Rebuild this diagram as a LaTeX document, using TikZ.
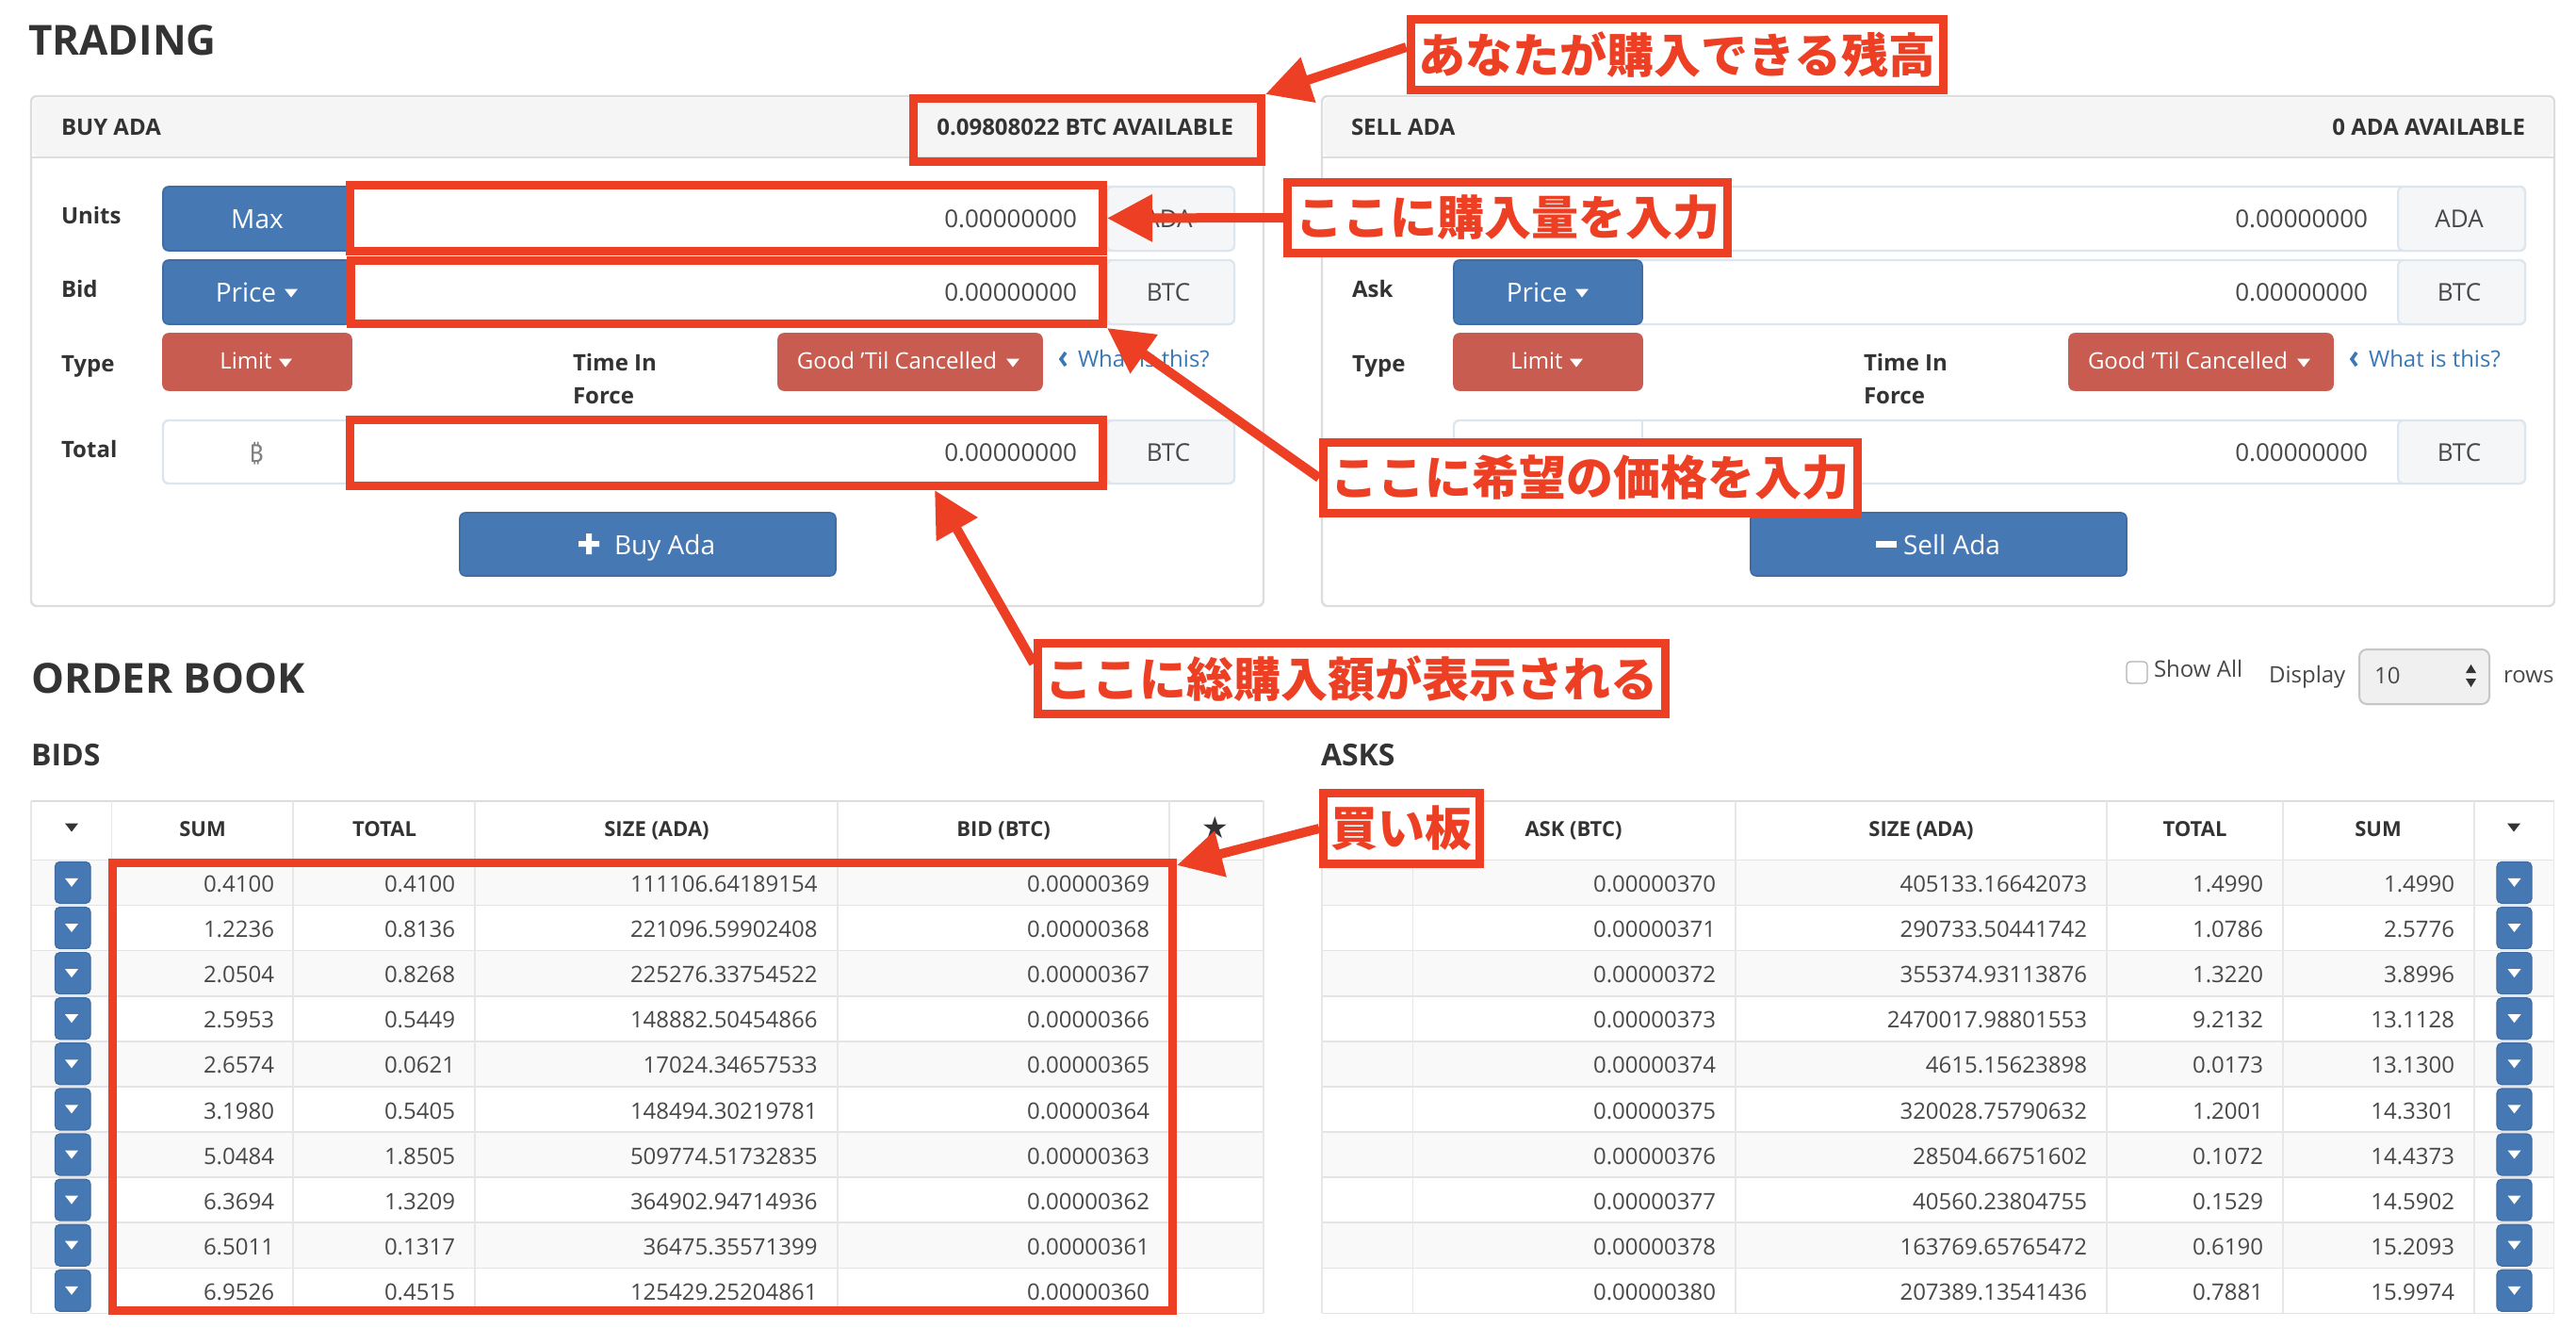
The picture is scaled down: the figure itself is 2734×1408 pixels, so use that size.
\documentclass[tikz,border=0pt]{standalone}
\usepackage{fontspec}
\usetikzlibrary{arrows.meta,calc}
\setmainfont{Open Sans}
\newfontfamily\cjk{Noto Sans CJK JP}
\newfontfamily\djv{DejaVu Sans}
\newfontfamily\nts{Noto Sans}
\newcommand{\fsz}[1]{\fontsize{#1}{#1}\selectfont}
\definecolor{anno}{HTML}{EC3F23}
\definecolor{ubtn}{HTML}{4679B4}
\definecolor{ubord}{HTML}{3F6CA3}
\definecolor{rbtn}{HTML}{C85C50}
\definecolor{ink}{HTML}{333333}
\definecolor{soft}{HTML}{484848}
\definecolor{gline}{HTML}{DDDDDD}
\definecolor{gborder}{HTML}{DDE6EE}
\definecolor{addon}{HTML}{F4F6F7}
\definecolor{stripe}{HTML}{F9F9F9}
\definecolor{linkc}{HTML}{3A78B4}
\tikzset{
  txt/.style={inner sep=0pt,outer sep=0pt,text depth=0pt,text=ink},
  lab/.style={txt,anchor=west,font=\fsz{12}\bfseries,text height=8.6pt},
  head/.style={txt,font=\fsz{12}\bfseries,text height=8.6pt},
  thd/.style={txt,font=\fsz{11}\bfseries,text height=7.9pt},
  big/.style={txt,anchor=west,font=\fsz{22}\bfseries,text height=15.8pt},
  mid/.style={txt,anchor=west,font=\fsz{16}\bfseries,text height=11.5pt},
  num/.style={txt,anchor=east,font=\fsz{13},text=soft,text height=9.4pt},
  addt/.style={txt,font=\fsz{13},text=soft,text height=9.4pt},
  cell/.style={txt,anchor=east,font=\fsz{12},text=soft,text height=8.6pt},
  plain/.style={txt,anchor=west,font=\fsz{12},text=soft,text height=8.6pt},
  wbig/.style={txt,font=\fsz{14},text=white,text height=10pt},
  wsm/.style={txt,font=\fsz{12},text=white,text height=8.6pt},
  panel/.style={draw=gline,line width=1.2pt,fill=white,rounded corners=3pt},
  group/.style={draw=gborder,line width=1.2pt,fill=white,rounded corners=3pt},
  addonbox/.style={draw=gborder,line width=1pt,fill=addon,rounded corners=3pt},
  bluebtn/.style={fill=ubtn,draw=ubord,line width=.8pt,rounded corners=3pt},
  redbtn/.style={fill=rbtn,draw=rbtn,line width=.8pt,rounded corners=3pt},
  smallbtn/.style={fill=ubtn,draw=ubord,line width=.6pt,rounded corners=2.5pt},
  hotbox/.style={draw=anno,line width=4.5pt},
  callout/.style={draw=anno,fill=white,line width=4.5pt,text=anno,font=\cjk\bfseries\fsz{25}},
  pointer/.style={draw=anno,fill=anno,line width=5pt,-{Triangle[length=24pt,width=24pt]}},
}
\newcommand{\bx}[7]{%
  \pgfmathsetmacro\bw{((#4)-(#2))*0.5}\pgfmathsetmacro\bh{((#5)-(#3))*0.5}%
  \pgfmathsetmacro\bcx{((#2)+(#4))/2}\pgfmathsetmacro\bcy{((#3)+(#5))/2}%
  \node[inner sep=0pt,minimum width=\bw pt,minimum height=\bh pt,#6] (#1) at (\bcx,\bcy) {#7};}
\newcommand{\rb}[7]{\bx{#1}{(#2)+4.5}{(#3)+4.5}{(#4)-4.5}{(#5)-4.5}{#6}{#7}}
\newcommand{\crt}[3][white]{\fill[#1] ({(#2)-7},{(#3)-4.5}) -- ({(#2)+7},{(#3)-4.5}) -- ({#2},{(#3)+4.5}) -- cycle;}
\begin{document}
\begin{tikzpicture}[x=0.5pt,y=-0.5pt]
\useasboundingbox (0,0) rectangle (2734,1408);
\fill[white] (0,0) rectangle (2734,1408);

\node[big] (trading) at (30,43) {TRADING};
\node[big] (orderbook) at (33,720) {ORDER BOOK};
\node[mid] (bids) at (33,801) {BIDS};
\node[mid] (asks) at (1402,801) {ASKS};

% ---------- panels (left, then right at +1370)
\foreach \o/\p in {0/L,1370/R}{
  \bx{panel\p}{33+\o}{102}{1341+\o}{643}{panel}{}
  \fill[rounded corners=3pt,fill=gray!8] (35+\o,104) rectangle (1339+\o,166);
  \draw[gline,line width=1.2pt] (33+\o,167) -- (1341+\o,167);
  % input groups
  \bx{gu\p}{173+\o}{198}{1310+\o}{266}{group}{}
  \bx{gb\p}{173+\o}{276}{1310+\o}{344}{group}{}
  \bx{gt\p}{173+\o}{446}{1310+\o}{513}{group}{}
  \bx{au\p}{1175+\o}{198}{1310+\o}{266}{addonbox}{}
  \bx{ab\p}{1175+\o}{276}{1310+\o}{344}{addonbox}{}
  \bx{at\p}{1175+\o}{446}{1310+\o}{513}{addonbox}{}
  \draw[gborder,line width=1pt] (373+\o,446) -- (373+\o,513);
  \bx{bu\p}{173+\o}{198}{373+\o}{266}{bluebtn}{}
  \bx{bb\p}{173+\o}{276}{373+\o}{344}{bluebtn}{}
  \node[wbig] (pr\p) at (261+\o,310) {Price};
  \crt{309+\o}{311}
  \node[num] (nu\p) at (1143+\o,232) {0.00000000};
  \node[num] (nb\p) at (1143+\o,310) {0.00000000};
  \node[num] (nt\p) at (1143+\o,480) {0.00000000};
  \node[addt] (tb\p) at (1240+\o,310) {BTC};
  \node[addt] (tt\p) at (1240+\o,480) {BTC};
  \node[addt] (tu\p) at (1240+\o,232) {ADA};
  \bx{lim\p}{173+\o}{354}{373+\o}{414}{redbtn}{}
  \node[wsm] (lt\p) at (261+\o,383) {Limit};
  \crt{303+\o}{385}
  \bx{gtc\p}{826+\o}{354}{1106+\o}{414}{redbtn}{}
  \node[wsm] (gt\p) at (952+\o,383) {Good \char39 Til Cancelled};
  \crt{1075+\o}{385}
  \draw[linkc,line width=1.8pt] (1131+\o,374) -- (1126+\o,381) -- (1131+\o,388);
  \node[plain,text=linkc] (what\p) at (1144+\o,381) {What is this?};
  \node[lab] (type\p) at (65+\o,386) {Type};
  \node[lab] (ti\p) at (608+\o,385) {Time In};
  \node[lab] (fo\p) at (608+\o,420) {Force};
  \bx{act\p}{488+\o}{544}{887+\o}{611}{bluebtn}{}
}
\node[wbig] (maxt) at (273,232) {Max};
\node[txt,font=\nts\bfseries\fsz{13},text=gray,text height=9.4pt] (btc) at (272,481) {₿};
\node[wbig,anchor=west] (buyt) at (652,578) {Buy Ada};
\fill[white] (614,574) rectangle (636,580) (622,566) rectangle (628,588);
\node[wbig,anchor=west] (sellt) at (2020,578) {Sell Ada};
\fill[white] (1991,574) rectangle (2013,581);
\node[lab] (units) at (65,229) {Units};
\node[lab] (bid) at (65,307) {Bid};
\node[lab] (total) at (65,477) {Total};
\node[lab] (ask) at (1435,307) {Ask};
\node[head,anchor=west] (buyada) at (65,135) {BUY ADA};
\node[head,anchor=west] (sellada) at (1434,135) {SELL ADA};
\node[head,anchor=east] (availb) at (1309,135) {0.09808022 BTC AVAILABLE};
\node[head,anchor=east] (avails) at (2680,135) {0 ADA AVAILABLE};

% ---------- show all
\bx{chk}{2257}{702}{2279}{725}{draw=gray!60,line width=.6pt,fill=white,rounded corners=2pt}{}
\node[plain] (showall) at (2286,710) {Show All};
\node[plain] (display) at (2408,716) {Display};
\bx{sel}{2504}{689}{2642}{747}{draw=gray!45,line width=1pt,fill=gray!12,rounded corners=4pt}{}
\node[plain] (ten) at (2520,717) {10};
\fill[ink] (2617,714) -- (2628,714) -- (2622.5,705) -- cycle;
\fill[ink] (2617,720) -- (2628,720) -- (2622.5,729) -- cycle;
\node[plain] (rowsl) at (2657,716) {rows};

% ---------- tables: stripes first
\foreach \o in {0,1370}{
  \foreach \i in {1,3,5,7,9}{
    \pgfmathsetmacro\ry{912.4+(\i-1)*48.1}
    \fill[stripe] (33+\o,\ry) rectangle (1341+\o,\ry+48.1);
  }
  \foreach \i in {0,...,10}{
    \pgfmathsetmacro\ry{912.4+\i*48.1}
    \draw[gline!80,line width=.8pt] (33+\o,\ry) -- (1341+\o,\ry);
  }
  \draw[gline,line width=1.4pt] (33+\o,850) -- (1341+\o,850);
}
\foreach \x in {33,118.6,311,504,889,1241,1341,1403,1499.5,1842,2236,2423,2626,2710.5}{
  \draw[gline!70,line width=.6pt] (\x,850) -- (\x,1393);
}
\node[thd] (hsum) at (215,880) {SUM};
\node[thd] (htot) at (408,880) {TOTAL};
\node[thd] (hsz) at (697,880) {SIZE (ADA)};
\node[thd] (hbid) at (1065,880) {BID (BTC)};
\node[txt,font=\djv\fsz{16},text height=11pt] (star) at (1290,878) {★};
\crt[ink]{76}{878}
\node[thd] (hask) at (1670,880) {ASK (BTC)};
\node[thd] (hsz2) at (2039,880) {SIZE (ADA)};
\node[thd] (htot2) at (2329.5,880) {TOTAL};
\node[thd] (hsum2) at (2524,880) {SUM};
\crt[ink]{2668}{878}

\foreach \s/\t/\z/\b [count=\i] in {
 0.4100/0.4100/111106.64189154/0.00000369,
 1.2236/0.8136/221096.59902408/0.00000368,
 2.0504/0.8268/225276.33754522/0.00000367,
 2.5953/0.5449/148882.50454866/0.00000366,
 2.6574/0.0621/17024.34657533/0.00000365,
 3.1980/0.5405/148494.30219781/0.00000364,
 5.0484/1.8505/509774.51732835/0.00000363,
 6.3694/1.3209/364902.94714936/0.00000362,
 6.5011/0.1317/36475.35571399/0.00000361,
 6.9526/0.4515/125429.25204861/0.00000360}{
  \pgfmathsetmacro\ry{912.4+(\i-1)*48.1}
  \pgfmathsetmacro\ty{\ry+25.5}
  \bx{bb\i}{58.4}{\ry+2}{96}{\ry+46}{smallbtn}{}
  \crt{76}{\ry+24}
  \node[cell] (bs\i) at (291,\ty) {\s};
  \node[cell] (bt\i) at (483,\ty) {\t};
  \node[cell] (bz\i) at (867.5,\ty) {\z};
  \node[cell] (bp\i) at (1220,\ty) {\b};
}
\foreach \b/\z/\t/\s [count=\i] in {
 0.00000370/405133.16642073/1.4990/1.4990,
 0.00000371/290733.50441742/1.0786/2.5776,
 0.00000372/355374.93113876/1.3220/3.8996,
 0.00000373/2470017.98801553/9.2132/13.1128,
 0.00000374/4615.15623898/0.0173/13.1300,
 0.00000375/320028.75790632/1.2001/14.3301,
 0.00000376/28504.66751602/0.1072/14.4373,
 0.00000377/40560.23804755/0.1529/14.5902,
 0.00000378/163769.65765472/0.6190/15.2093,
 0.00000380/207389.13541436/0.7881/15.9974}{
  \pgfmathsetmacro\ry{912.4+(\i-1)*48.1}
  \pgfmathsetmacro\ty{\ry+25.5}
  \bx{ab\i}{2650}{\ry+2}{2687}{\ry+46}{smallbtn}{}
  \crt{2668.5}{\ry+24}
  \node[cell] (ap\i) at (1821,\ty) {\b};
  \node[cell] (az\i) at (2215,\ty) {\z};
  \node[cell] (at\i) at (2402,\ty) {\t};
  \node[cell] (as\i) at (2605,\ty) {\s};
}

% ---------- annotation target boxes
\rb{hbavail}{965}{100}{1343}{176}{hotbox}{}
\rb{hbunits}{367}{192}{1175}{271}{hotbox}{}
\rb{hbbid}{368}{272}{1175}{348}{hotbox}{}
\rb{hbtotal}{367}{441}{1175}{520}{hotbox}{}
\rb{hbbook}{115}{911}{1249}{1395}{hotbox}{}

% ---------- callouts
\rb{c1}{1492.5}{16}{2067}{100}{callout}{あなたが購入できる残高}
\rb{c2}{1362}{189}{1838}{273}{callout}{ここに購入量を入力}
\rb{c3}{1400}{465}{1975.5}{549}{callout}{ここに希望の価格を入力}
\rb{c4}{1097}{678}{1772}{762}{callout}{ここに総購入額が表示される}
\rb{c5}{1400}{837}{1574.5}{921}{callout}{買い板}

% ---------- pointers
\coordinate (t4) at (992,520);
\draw[pointer] ([yshift=4pt]c1.west) -- (hbavail.north east);
\draw[pointer] (c2.west) -- (hbunits.east);
\draw[pointer] (c3.west) -- (hbbid.south east);
\draw[pointer] ([yshift=8pt]c4.west) -- (t4);
\draw[pointer] (c5.west) -- ([yshift=-3.5pt]hbbook.north east);
\end{tikzpicture}
\end{document}
